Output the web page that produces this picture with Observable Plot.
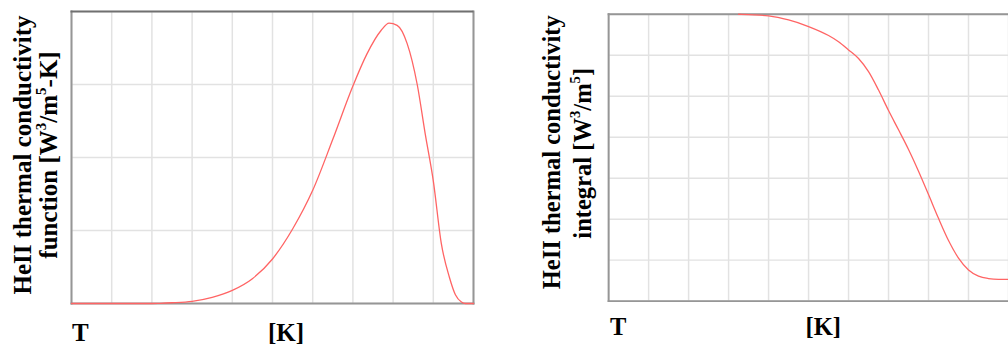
<!DOCTYPE html>
<html><head><meta charset="utf-8">
<script src="https://cdn.jsdelivr.net/npm/d3@7"></script>
<script src="https://cdn.jsdelivr.net/npm/@observablehq/plot@0.6"></script>
<style>
html,body{margin:0;padding:0;background:#fff;overflow:hidden;width:1008px;height:348px}
#wrap{position:relative;width:1008px;height:348px;overflow:hidden}
#left{position:absolute;left:0;top:0}
#right{position:absolute;left:504px;top:0}
svg{overflow:visible}
</style></head><body><div id="wrap"><div id="left"></div><div id="right"></div></div>
<script>
// Temperature grid (K), tick positions (labels hidden in the original)
const xTicks = [1.2,1.3,1.4,1.5,1.6,1.7,1.8,1.9,2.0,2.1,2.2];
const yTicksLeft = [0,1,2,3,4];
const yTicksRight = [0,1,2,3,4,5,6,7];

// HeII thermal conductivity function (arbitrary gridline units)
const tFunc = [1.20,1.30,1.40,1.42,1.45,1.50,1.55,1.60,1.65,1.70,1.75,1.80,1.85,1.90,1.935,1.97,1.99,2.01,2.035,2.06,2.08,2.10,2.12,2.14,2.155,2.17,2.18,2.20];
const fFunc = [0,0,0,0.003,0.01,0.03,0.085,0.18,0.34,0.61,1.02,1.55,2.25,2.98,3.42,3.74,3.84,3.81,3.56,3.0,2.32,1.68,0.82,0.36,0.12,0.02,0,0];

// HeII thermal conductivity integral (arbitrary gridline units)
const tInt = [1.525,1.55,1.60,1.65,1.70,1.75,1.775,1.80,1.825,1.85,1.875,1.90,1.925,1.95,1.975,2.00,2.025,2.05,2.075,2.10,2.125,2.15,2.175,2.20];
const fInt = [7.0,6.99,6.96,6.86,6.70,6.48,6.33,6.13,5.92,5.60,5.15,4.65,4.18,3.70,3.17,2.60,2.02,1.48,1.05,0.76,0.61,0.55,0.53,0.53];

const funcData = tFunc.map((t,i)=>({t, v:fFunc[i]}));
const intData = tInt.map((t,i)=>({t, v:fInt[i]}));

const FONT = '"Liberation Serif","Times New Roman",serif';
const gridStyle = {stroke:"#e2e2e2", strokeOpacity:1, strokeWidth:1.5};
const frameColor = "#969696";
const curveColor = "#ff6464";

function addText(svg, x, y, parts, opts={}){
  const t = d3.select(svg).append("text")
    .attr("transform", `translate(${x},${y})` + (opts.rotate ? ` rotate(${opts.rotate})` : ""))
    .attr("text-anchor", opts.anchor || "middle")
    .attr("font-family", FONT).attr("font-weight","bold")
    .attr("font-size", opts.size || 25).attr("fill","#000");
  let shifted = false;
  for (const p of parts){
    if (typeof p === "string"){
      t.append("tspan").attr("dy", shifted ? "0.45em" : null).text(p);
      shifted = false;
    } else {
      t.append("tspan").attr("font-size","0.6em").attr("dy","-0.75em").text(p.sup);
      shifted = true;
    }
  }
}

const left = Plot.plot({
  width: 504, height: 348,
  marginLeft: 71, marginRight: 31, marginTop: 11, marginBottom: 45,
  x: {domain: [1.2, 2.2], axis: null},
  y: {domain: [0, 4], axis: null},
  marks: [
    Plot.gridX(xTicks, gridStyle),
    Plot.gridY(yTicksLeft, gridStyle),
    Plot.frame({anchor:"left", stroke:frameColor, strokeWidth:2}),
    Plot.frame({anchor:"bottom", stroke:frameColor, strokeWidth:2}),
    Plot.frame({anchor:"right", stroke:frameColor, strokeWidth:2}),
    Plot.frame({anchor:"top", stroke:"#707070", strokeWidth:2, strokeDasharray:"2,1"}),
    Plot.line(funcData, {x:"t", y:"v", stroke:curveColor, strokeWidth:1.3, curve:"monotone-x"})
  ]
});
document.getElementById("left").appendChild(left);
addText(left, 31, 155, ["HeII thermal conductivity"], {rotate:-90});
addText(left, 57, 155, ["function [W", {sup:"3"}, "/m", {sup:"5"}, "-K]"], {rotate:-90});
addText(left, 72, 341, ["T"], {anchor:"start"});
addText(left, 286, 341, ["[K]"]);

const right = Plot.plot({
  width: 513, height: 348,
  marginLeft: 106, marginRight: 0, marginTop: 14, marginBottom: 42,
  x: {domain: [1.2, 2.2], axis: null},
  y: {domain: [0, 7], axis: null},
  marks: [
    Plot.gridX(xTicks, gridStyle),
    Plot.gridY(yTicksRight, gridStyle),
    Plot.frame({anchor:"left", stroke:frameColor, strokeWidth:2}),
    Plot.frame({anchor:"bottom", stroke:frameColor, strokeWidth:2}),
    Plot.frame({anchor:"top", stroke:frameColor, strokeWidth:2}),
    Plot.line(intData, {x:"t", y:"v", stroke:curveColor, strokeWidth:1.3, curve:"monotone-x"})
  ]
});
document.getElementById("right").appendChild(right);
addText(right, 57.5, 155, ["HeII thermal conductivity"], {rotate:-90});
addText(right, 89, 156, ["integral [W", {sup:"3"}, "/m", {sup:"5"}, "]"], {rotate:-90});
addText(right, 108, 341, ["T"], {anchor:"start"});
addText(right, 325, 341, ["[K]"]);
</script>
</body></html>
